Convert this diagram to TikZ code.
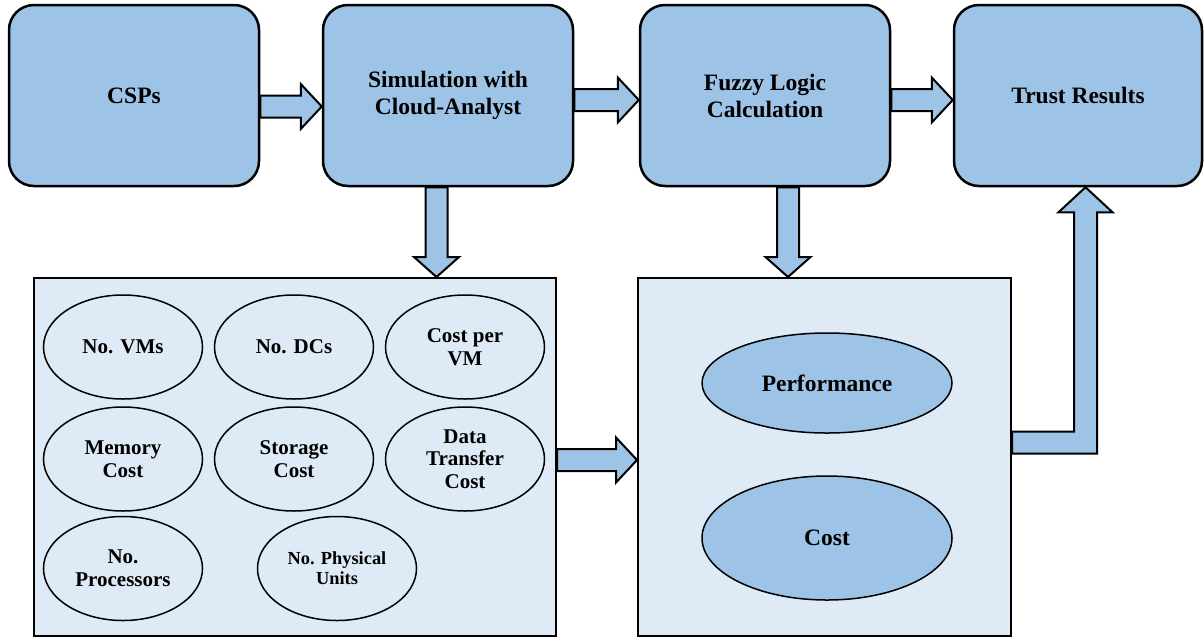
\documentclass[tikz,border=0pt]{standalone}
\usepackage{fontspec}
\setmainfont{Liberation Serif}
\usetikzlibrary{positioning,calc,shapes.geometric}

\definecolor{boxblue}{RGB}{157,195,230}
\definecolor{paleblue}{RGB}{222,235,247}

% block arrows between two anchors
\newcommand{\rightblock}[2]{%
  \draw[block] let \p1=(#1), \p2=(#2) in
    (\x1,{\y1+11pt}) -- ({\x2-21pt},{\y1+11pt}) -- ({\x2-21pt},{\y1+22.5pt}) -- (\x2,\y1)
    -- ({\x2-21pt},{\y1-22.5pt}) -- ({\x2-21pt},{\y1-11pt}) -- (\x1,{\y1-11pt}) -- cycle;}
\newcommand{\downblock}[2]{%
  \draw[block] let \p1=(#1), \p2=(#2) in
    ({\x1-11pt},\y1) -- ({\x1-11pt},{\y2+20pt}) -- ({\x1-22.5pt},{\y2+20pt}) -- (\x1,\y2)
    -- ({\x1+22.5pt},{\y2+20pt}) -- ({\x1+11pt},{\y2+20pt}) -- ({\x1+11pt},\y1) -- cycle;}

\begin{document}
\begin{tikzpicture}[x=1pt, y=-1pt, node distance=61.5pt]
\tikzstyle{stage}=[draw, line width=2.5pt, rounded corners=25pt, fill=boxblue, minimum width=250pt, minimum height=181pt, align=center, font=\bfseries\fontsize{23.5}{27}\selectfont]
\tikzstyle{panel}=[draw, line width=2pt, fill=paleblue, inner sep=0pt]
\tikzstyle{factor}=[draw, ellipse, line width=1.5pt, minimum width=159pt, minimum height=104pt, inner sep=0pt, align=center, font=\bfseries\fontsize{21}{23}\selectfont]
\tikzstyle{result}=[factor, fill=boxblue, minimum width=250pt, font=\bfseries\fontsize{23.5}{27}\selectfont]
\tikzstyle{block}=[draw, line width=2pt, fill=boxblue]
\useasboundingbox (0,0) rectangle (1204,638);
\node[stage] (csps) at (134,95.5) {CSPs};
\node[stage, right=of csps] (sim) {Simulation with\\Cloud-Analyst};
\node[stage, right=64.5pt of sim] (fuzzy) {Fuzzy Logic\\Calculation};
\node[stage, right=of fuzzy, minimum width=248pt] (trust) {Trust Results};
\node[panel, minimum width=522pt, minimum height=358pt] (params) at (295,457) {};
\node[panel, minimum width=373pt, minimum height=358pt] (eval) at (824.5,457) {};
% simulation parameters
\node[factor] (vms) at (123,347) {No. VMs};
\node[factor] (dcs) at (294,347) {No. DCs};
\node[factor] (costvm) at (465,347) {Cost per\\VM};
\node[factor] (memory) at (123,459) {Memory\\Cost};
\node[factor] (storage) at (294,459) {Storage\\Cost};
\node[factor, font=\bfseries\fontsize{21}{22.5}\selectfont] (transfer) at (465,459) {Data\\Transfer\\Cost};
\node[factor] (procs) at (123,568.5) {No.\\Processors};
\node[factor, font=\bfseries\fontsize{18.4}{20}\selectfont] (units) at (337,568.5) {No. Physical\\Units};
% trust factors
\node[result, minimum height=100pt] (perf) at (827,383) {Performance};
\node[result, minimum height=124pt] (cost) at (827,538) {Cost};
% arrows
\rightblock{$(csps.east)+(0,11)$}{sim.west}
\rightblock{$(sim.east)+(0,4.5)$}{fuzzy.west}
\rightblock{$(fuzzy.east)+(0,4.5)$}{trust.west}
\downblock{$(sim.south)+(-11.5,0)$}{params.north}
\downblock{$(fuzzy.south)+(23,0)$}{eval.north}
\rightblock{$(params.east)+(0,3)$}{eval.west}
\draw[block] let \p1=($(eval.east)+(0,-14.5)$), \p2=($(trust.south)+(7.5,0)$) in
  (\x1,{\y1+11pt}) -- ({\x2-11.5pt},{\y1+11pt}) -- ({\x2-11.5pt},{\y2-25pt}) -- ({\x2-27pt},{\y2-25pt})
  -- (\x2,\y2) -- ({\x2+27pt},{\y2-25pt}) -- ({\x2+11.5pt},{\y2-25pt}) -- ({\x2+11.5pt},{\y1-11pt})
  -- (\x1,{\y1-11pt}) -- cycle;
\end{tikzpicture}
\end{document}
